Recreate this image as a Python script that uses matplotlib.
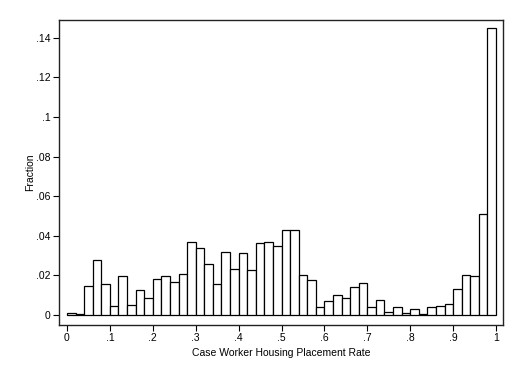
import numpy as np
import matplotlib
matplotlib.use("Agg")
import matplotlib.pyplot as plt

plt.rcParams['font.family'] = ['Liberation Sans', 'DejaVu Sans']

# histogram: 50 bins of width 0.02 on [0, 1]
bin_left = np.arange(50) * 0.02
fraction = [
    0.0012, 0.0004, 0.0146, 0.0280, 0.0157, 0.0045, 0.0199, 0.0052, 0.0128, 0.0086,
    0.0183, 0.0195, 0.0167, 0.0209, 0.0370, 0.0338, 0.0259, 0.0155, 0.0320, 0.0232,
    0.0315, 0.0229, 0.0365, 0.0370, 0.0347, 0.0429, 0.0429, 0.0202, 0.0177, 0.0042,
    0.0071, 0.0099, 0.0088, 0.0140, 0.0162, 0.0042, 0.0077, 0.0014, 0.0039, 0.0010,
    0.0029, 0.0007, 0.0042, 0.0047, 0.0055, 0.0131, 0.0200, 0.0195, 0.0510, 0.1450,
]
y_ticks = [0, 0.02, 0.04, 0.06, 0.08, 0.1, 0.12, 0.14]
y_labels = ["0", ".02", ".04", ".06", ".08", ".1", ".12", ".14"]
x_ticks = [0, 0.1, 0.2, 0.3, 0.4, 0.5, 0.6, 0.7, 0.8, 0.9, 1.0]
x_labels = ["0", ".1", ".2", ".3", ".4", ".5", ".6", ".7", ".8", ".9", "1"]

fig = plt.figure(figsize=(5.15, 3.75), dpi=100)
ax = fig.add_axes([0.1146, 0.1333, 0.8621, 0.8134])

ax.bar(bin_left, fraction, width=0.02, align="edge",
       facecolor="white", edgecolor="black", linewidth=0.9)

ax.set_xlim(-0.0186, 1.0163)
ax.set_ylim(-0.00505, 0.149)

ax.set_yticks(y_ticks)
ax.set_yticklabels(y_labels)
ax.set_xticks(x_ticks)
ax.set_xticklabels(x_labels)
ax.tick_params(direction="out", length=4, width=0.8, labelsize=7.5, pad=2)

for s in ax.spines.values():
    s.set_linewidth(1.0)
    s.set_color("#222222")

ax.set_xlabel("Case Worker Housing Placement Rate", fontsize=7.5, labelpad=3)
ax.set_ylabel("Fraction", fontsize=7.5, labelpad=1)

fig.savefig("out.png", dpi=100)
